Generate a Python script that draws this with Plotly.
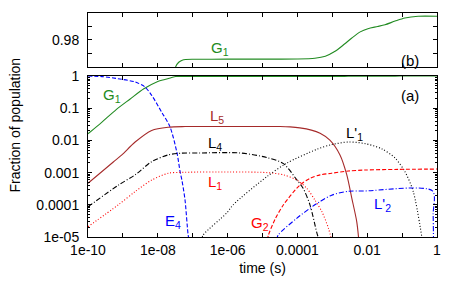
import plotly.graph_objects as go

# Values. Times and fractions are given as log10 exponents
# (panel a), G1 also as plain fractions (shared by both panels).
G1_logt = [-10, -9.6, -9.2, -8.8, -8.4, -8.0, -7.8, -7.6, -7.49, -7.4, -7.3, -7.2, -7.0,
           -6.0, -5.0, -4.0, -3.5, -3.2, -2.92, -2.65, -2.44, -2.2, -1.98, -1.7, -1.49,
           -1.2, -0.92, -0.54, 0]
G1_frac = [0.016, 0.037, 0.089, 0.19, 0.40, 0.68, 0.78, 0.90, 0.960, 0.9635, 0.9650, 0.9655,
           0.9657, 0.9658, 0.9658, 0.9659, 0.9665, 0.968, 0.9716, 0.977, 0.9815, 0.986,
           0.9884, 0.9900, 0.9913, 0.994, 0.9963, 0.9976, 0.9976]

E4_logt = [-10, -9.6, -9.14, -8.65, -8.37, -8.175, -7.89, -7.65, -7.45, -7.36, -7.31, -7.22, -7.13, -7.10]
E4_logf = [0, -0.02, -0.084, -0.186, -0.34, -0.60, -1.12, -1.58, -2.39, -2.98, -3.23, -3.85, -4.94, -5.1]

L5_logt = [-10, -9.275, -9.03, -8.65, -8.175, -7.70, -7.22, -6.0, -4.5, -4.21, -3.93, -3.6,
           -3.35, -3.07, -2.78, -2.59, -2.44, -2.30, -2.24]
L5_logf = [-3.33, -2.67, -2.45, -2.05, -1.69, -1.59, -1.57, -1.57, -1.57, -1.58, -1.61, -1.68,
           -1.78, -1.99, -2.45, -3.05, -3.80, -4.52, -5.1]

L4_logt = [-10, -9.13, -8.65, -8.175, -7.70, -7.36, -6.79, -5.65, -4.88, -4.40, -4.02, -3.84,
           -3.64, -3.45, -3.38]
L4_logf = [-4.06, -3.39, -3.07, -2.66, -2.45, -2.40, -2.39, -2.39, -2.53, -2.72, -3.22, -3.48,
           -4.0, -4.84, -5.1]

L1_logt = [-10, -9.13, -8.65, -8.175, -7.70, -7.22, -5.93, -4.87, -4.40, -4.02, -3.73, -3.50,
           -3.30, -3.11, -3.02]
L1_logf = [-4.68, -4.00, -3.59, -3.23, -3.02, -2.99, -2.98, -3.0, -3.07, -3.23, -3.49, -3.85,
           -4.21, -4.73, -5.1]

L1p_logt = [-6.75, -6.70, -6.03, -5.84, -4.88, -4.31, -3.45, -3.02, -2.54, -2.06, -1.585,
            -1.20, -0.92, -0.68, -0.42]
L1p_logf = [-5.1, -4.94, -4.26, -4.0, -3.13, -2.71, -2.28, -2.13, -2.05, -2.10, -2.26,
            -2.55, -2.97, -3.59, -5.1]

G2_logt = [-4.86, -4.83, -4.64, -4.40, -3.93, -3.64, -3.35, -3.02, -2.54, -2.06, -1.12, 0]
G2_logf = [-5.1, -4.94, -4.45, -4.00, -3.39, -3.18, -3.07, -3.02, -2.95, -2.92, -2.90, -2.89]

L2p_logt = [-4.60, -4.55, -4.02, -3.50, -3.35, -3.02, -2.54, -2.06, -0.13, -0.11, -0.10]
L2p_logf = [-5.1, -4.94, -4.42, -4.00, -3.90, -3.70, -3.58, -3.57, -3.57, -4.3, -5.1]

x_tickvals = [1e-10, 1e-8, 1e-6, 1e-4, 1e-2, 1]
x_ticktext = ["1e-10", "1e-08", "1e-06", "0.0001", "0.01", "1"]
x_minor = [1e-9, 1e-7, 1e-5, 1e-3, 1e-1]
ya_tickvals = [1, 0.1, 0.01, 0.001, 0.0001, 1e-05]
ya_ticktext = ["1", "0.1", "0.01", "0.001", "0.0001", "1e-05"]
yb_tickvals = [0.97, 0.98, 0.99, 1.0]
yb_ticktext = ["", "0.98", "", "1"]

GREEN = "#228b22"
BROWN = "#a52a2a"
RED = "#ff0000"
BLUE = "#0000ff"
BLACK = "#000000"
FONT = "Liberation Sans, Arial, sans-serif"


def p10(vals):
    return [10 ** v for v in vals]


fig = go.Figure()

series = [
    (G1_logt, None, GREEN, "solid"),
    (E4_logt, E4_logf, BLUE, "4px,2px"),
    (L5_logt, L5_logf, BROWN, "solid"),
    (L4_logt, L4_logf, BLACK, "5px,2px,1px,2px"),
    (L1_logt, L1_logf, RED, "1px,2px"),
    (L1p_logt, L1p_logf, BLACK, "1px,2px"),
    (G2_logt, G2_logf, RED, "4px,2px"),
    (L2p_logt, L2p_logf, BLUE, "5px,2px,1px,2px"),
]
for lt, lf, col, dash in series:
    yv = G1_frac if lf is None else p10(lf)
    fig.add_trace(go.Scatter(x=p10(lt), y=yv, mode="lines", xaxis="x", yaxis="y",
                             line=dict(color=col, width=1.1, dash=dash, shape="spline",
                                       smoothing=0.8),
                             showlegend=False, hoverinfo="skip"))

fig.add_trace(go.Scatter(x=p10(G1_logt), y=G1_frac, mode="lines", xaxis="x2", yaxis="y2",
                         line=dict(color=GREEN, width=1.1, shape="spline", smoothing=0.8),
                         showlegend=False, hoverinfo="skip"))

axis_common = dict(showline=True, linecolor="black", linewidth=1, mirror="allticks",
                   ticks="inside", ticklen=4, tickcolor="black", showgrid=False,
                   zeroline=False, automargin=False,
                   tickfont=dict(family=FONT, size=14, color="black"))

# the page places the figure 8 px from the window's top-left corner
fig.update_layout(
    width=455, height=275,
    margin=dict(l=80, r=26, t=5, b=46),
    paper_bgcolor="white", plot_bgcolor="white",
    font=dict(family=FONT, size=14, color="black"),
    xaxis=dict(type="log", range=[-10, 0], tickvals=x_tickvals, ticktext=x_ticktext,
               minor=dict(tickvals=x_minor, ticks="inside", ticklen=4, tickcolor="black"),
               anchor="y", domain=[0, 1],
               title=dict(text="time (s)", font=dict(family=FONT, size=14), standoff=6),
               **axis_common),
    yaxis=dict(type="log", range=[-5, 0], tickvals=ya_tickvals, ticktext=ya_ticktext,
               minor=dict(ticks="inside", ticklen=2, tickcolor="black", dtick="D1"),
               domain=[0, 0.71875], anchor="x", ticklabelstandoff=5, **axis_common),
    xaxis2=dict(type="log", range=[-10, 0], tickvals=x_tickvals + x_minor,
                showticklabels=False, anchor="y2", domain=[0, 1], matches="x",
                **axis_common),
    yaxis2=dict(range=[0.96, 1.0], tickvals=yb_tickvals, ticktext=yb_ticktext,
                domain=[0.759, 1], anchor="x2", ticklabelstandoff=5, **axis_common),
)

ann = [
    ("G<sub>1</sub>", -6.22, 0.974, "x2", "y2", GREEN),
    ("(b)", -0.77, 0.965, "x2", "y2", BLACK),
    ("(a)", -0.77, -0.59, "x", "y", BLACK),
    ("G<sub>1</sub>", -9.31, -0.62, "x", "y", GREEN),
    ("L<sub>5</sub>", -6.30, -1.27, "x", "y", BROWN),
    ("L<sub>4</sub>", -6.36, -2.11, "x", "y", BLACK),
    ("L<sub>1</sub>", -6.36, -3.32, "x", "y", RED),
    ("E<sub>4</sub>", -7.56, -4.53, "x", "y", BLUE),
    ("G<sub>2</sub>", -5.07, -4.57, "x", "y", RED),
    ("L'<sub>1</sub>", -2.35, -1.80, "x", "y", BLACK),
    ("L'<sub>2</sub>", -1.55, -4.0, "x", "y", BLUE),
]
for text, ax, ay, xr, yr, col in ann:
    fig.add_annotation(text=text, x=ax, y=ay, xref=xr, yref=yr, showarrow=False,
                       font=dict(family=FONT, size=15, color=col))

fig.add_annotation(text="Fraction of population", xref="paper", yref="paper",
                   x=-0.2106, y=0.5, textangle=-90, showarrow=False,
                   xanchor="center", yanchor="middle",
                   font=dict(family=FONT, size=14, color="black"))

fig.write_html("out.html")
